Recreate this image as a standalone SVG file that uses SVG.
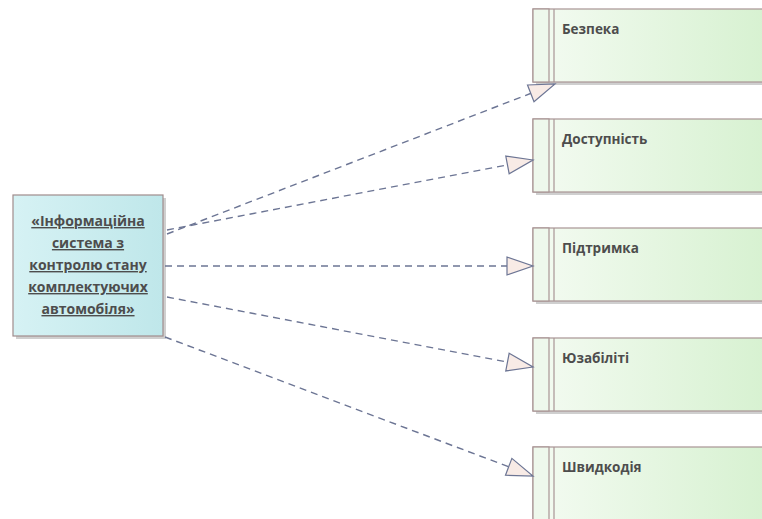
<svg xmlns="http://www.w3.org/2000/svg" width="762" height="519" viewBox="0 0 762 519">
<defs>
<linearGradient id="gCyan" x1="0" y1="0" x2="1" y2="0">
<stop offset="0" stop-color="#d6f2f4"/>
<stop offset="1" stop-color="#bfe7ea"/>
</linearGradient>
<linearGradient id="gGreen" x1="0" y1="0" x2="1" y2="0">
<stop offset="0" stop-color="#f4fbf2"/>
<stop offset="1" stop-color="#d6f1d0"/>
</linearGradient>
<marker id="tri" markerUnits="userSpaceOnUse" markerWidth="30" markerHeight="22" refX="27" refY="10" orient="auto" overflow="visible">
<path d="M1,1 L27,10 L1,19 Z" fill="#f8ebe6" stroke="#6c7594" stroke-width="1.2" stroke-dasharray="none"/>
</marker>
<style>
.shadow{fill:#cfcfcf}
.req{fill:url(#gGreen);stroke:#a89494;stroke-width:1.2}
.band{fill:#eef8ec;stroke:#a89494;stroke-width:1.2}
.lbl{font-family:"Open Sans","DejaVu Sans",sans-serif;font-weight:bold;font-size:13.5px;fill:#4d4d4d}
.sys{font-family:"Open Sans","DejaVu Sans",sans-serif;font-weight:bold;font-size:14px;fill:#4d4d4d;text-anchor:middle;text-decoration:underline}
.dep{fill:none;stroke:#6c7594;stroke-width:1.4;stroke-dasharray:7,5;marker-end:url(#tri)}
</style>
</defs>
<rect width="762" height="519" fill="#ffffff"/>

<g id="system">
<rect class="shadow" x="16" y="198" width="150" height="141"/>
<rect x="13" y="195" width="150" height="141" fill="url(#gCyan)" stroke="#a08c8c" stroke-width="1.2"/>
<text class="sys" x="88" y="226">«Інформаційна</text>
<text class="sys" x="88" y="248">система з</text>
<text class="sys" x="88" y="270">контролю стану</text>
<text class="sys" x="88" y="292">комплектуючих</text>
<text class="sys" x="88" y="314">автомобіля»</text>
</g>

<g id="bezpeka">
<rect class="shadow" x="536" y="12" width="240" height="73"/>
<rect class="req" x="533" y="9" width="240" height="73"/>
<rect class="band" x="533" y="9" width="16" height="73"/>
<line x1="554" y1="9" x2="554" y2="82" stroke="#a89494" stroke-width="1.2"/>
<text class="lbl" x="562" y="34">Безпека</text>
</g>

<g id="dostupnist">
<rect class="shadow" x="536" y="122" width="240" height="73"/>
<rect class="req" x="533" y="119" width="240" height="73"/>
<rect class="band" x="533" y="119" width="16" height="73"/>
<line x1="554" y1="119" x2="554" y2="192" stroke="#a89494" stroke-width="1.2"/>
<text class="lbl" x="562" y="144">Доступність</text>
</g>

<g id="pidtrymka">
<rect class="shadow" x="536" y="231" width="240" height="73"/>
<rect class="req" x="533" y="228" width="240" height="73"/>
<rect class="band" x="533" y="228" width="16" height="73"/>
<line x1="554" y1="228" x2="554" y2="301" stroke="#a89494" stroke-width="1.2"/>
<text class="lbl" x="562" y="253">Підтримка</text>
</g>

<g id="yuzabiliti">
<rect class="shadow" x="536" y="341" width="240" height="73"/>
<rect class="req" x="533" y="338" width="240" height="73"/>
<rect class="band" x="533" y="338" width="16" height="73"/>
<line x1="554" y1="338" x2="554" y2="411" stroke="#a89494" stroke-width="1.2"/>
<text class="lbl" x="562" y="363">Юзабіліті</text>
</g>

<g id="shvydkodiia">
<rect class="shadow" x="536" y="450" width="240" height="73"/>
<rect class="req" x="533" y="447" width="240" height="73"/>
<rect class="band" x="533" y="447" width="16" height="73"/>
<line x1="554" y1="447" x2="554" y2="520" stroke="#a89494" stroke-width="1.2"/>
<text class="lbl" x="562" y="472">Швидкодія</text>
</g>

<g id="connectors">
<path class="dep" d="M167,234 L555,84"/>
<path class="dep" d="M167,230 L533,160"/>
<path class="dep" d="M165,266 L533,266"/>
<path class="dep" d="M167,297 L533,367"/>
<path class="dep" d="M165,337 L533,476"/>
</g>
</svg>
